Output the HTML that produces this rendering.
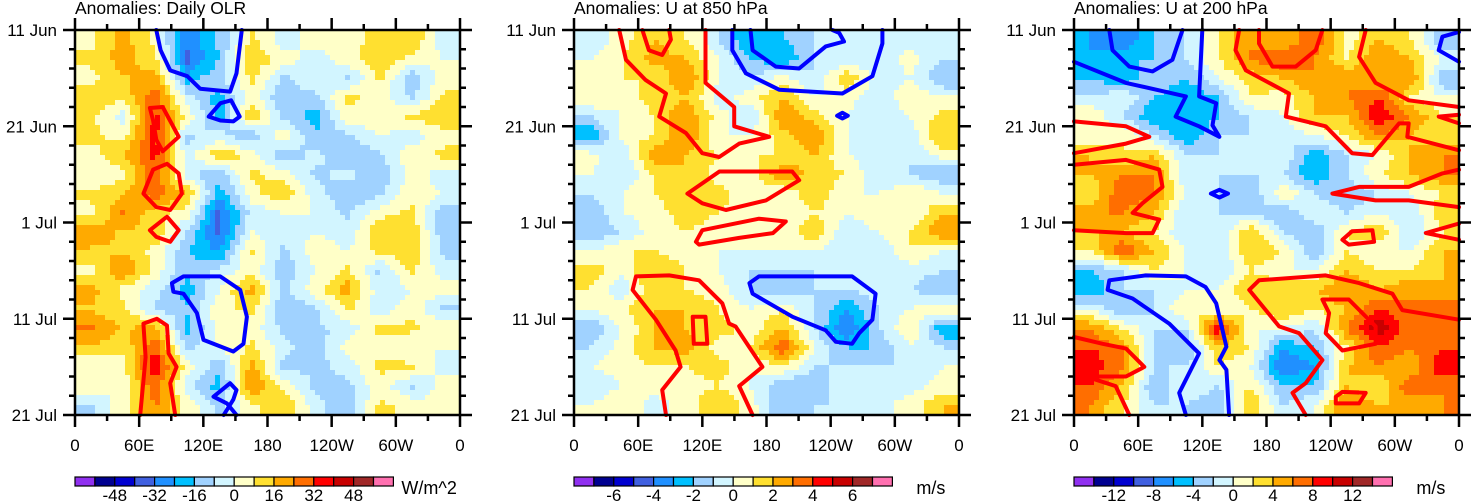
<!DOCTYPE html>
<html><head><meta charset="utf-8">
<style>
html,body{margin:0;padding:0;background:#fff;}
svg{display:block;font-family:"Liberation Sans",Arial,sans-serif;}
</style></head>
<body>
<svg id="root" width="1473" height="501" viewBox="0 0 1473 501" xmlns="http://www.w3.org/2000/svg"></svg>
<script>
// ---------- data ----------
const lonTickLabels = ["0","60E","120E","180","120W","60W","0"];
const dayTickLabels = ["11 Jun","21 Jun","1 Jul","11 Jul","21 Jul"];
const panelTitles = ["Anomalies: Daily OLR","Anomalies: U at 850 hPa","Anomalies: U at 200 hPa"];
const panelUnits = ["W/m^2","m/s","m/s"];
const panelSteps = [8,1,2];
const cbLabels1 = ["-48","-32","-16","0","16","32","48"];
const cbLabels2 = ["-6","-4","-2","0","2","4","6"];
const cbLabels3 = ["-12","-8","-4","0","4","8","12"];
const levelColors = ['#9030f0','#000090','#0000d0','#4060e0','#2090ff','#00c0ff','#a0d2ff','#d2f5ff','#ffffc8','#ffe030','#ffaa00','#ff6e00','#ff0000','#c80000','#a02828','#ff70b0'];

// OLR anomaly grid: 20 rows (2-day) x 12 cols (30 deg)
const olr = [
[5,20,5,-30,-15,10,-5,5,0,15,15,-5],
[10,20,10,-35,-15,15,5,-5,5,15,5,0],
[5,15,20,-20,-10,10,-10,0,-10,10,-15,5],
[15,10,30,-5,-20,5,-15,-10,10,5,-10,10],
[10,-5,35,5,-20,15,-10,-20,5,5,10,15],
[10,5,35,-10,-5,-15,5,-15,-10,0,-5,5],
[5,15,35,-5,15,5,-15,-5,-15,-10,5,10],
[0,5,30,-5,-15,10,5,-10,-5,-15,5,-5],
[10,15,30,15,-20,5,15,-5,-15,-10,5,0],
[5,25,10,5,-35,-5,0,0,-10,5,10,-15],
[20,15,15,-10,-35,0,-5,0,-5,15,15,-15],
[15,15,5,-15,-25,10,-10,5,0,10,15,-10],
[5,25,5,-15,-5,5,-15,0,10,-10,10,-5],
[20,5,-5,-20,0,20,-10,5,20,-5,0,5],
[15,10,-10,-15,5,10,-15,-10,10,-5,5,-10],
[25,15,20,-20,5,5,-10,-10,-5,10,10,5],
[15,10,30,-10,0,10,-5,-15,5,5,0,0],
[0,5,40,5,-15,20,-10,-10,-5,10,10,-5],
[5,0,30,-5,-20,25,5,-10,-10,5,-10,5],
[-10,5,25,5,-10,5,15,-5,-15,10,5,0]];
const u850 = [
[-1,0.5,2,1,-1,-3,-2,-1,0,-1,-0.5,-1],
[0,1,2.5,2,0,-2,-3,-1,-1,-1,0.5,-1],
[0,1,1,3,0,-1,0.5,-1,2,-0.5,0,-2],
[1,0.5,1.5,2,-0.5,0.5,2,0,0.5,-1,1,0],
[-1,0,1,3,0.5,-1,3,1.5,0,-1,0,1.5],
[-3,0.5,1,3,0,0,1.5,3,0,-1,-0.5,2],
[0.5,-1,3,2,1,1,1,2,0,-0.5,-1,0.5],
[0,-1,1,2,0.5,0.5,3,1.5,1,-1,-1,-2],
[-1,0,1,2,1.5,0,0,2,0,0,1,0],
[-2,0,0.5,1.5,1,0.5,0,1,0,1,0,2],
[-2,-1,0.5,1,0.5,0.5,0,2,-1,0,1,3],
[0,1,1,0.5,0,0,0,0,-1,-1,1,0],
[1.5,0.5,2,1,0,-1,-1,-1,-1,-1,-0.5,-1],
[1,-1,2,1,0.5,-1,-2,-1,-1,-0.5,-1,-2],
[0,1,2,2,1,0,1,-1,-3,-1,0,1],
[-2,0,2,2,1.5,0.5,2,-1,-4,-1,1,-3],
[-1,0.5,2,2.5,0.5,1,4,0,-2,-2,0,-1],
[0,0.5,1,1,1.5,0,1,-1,-1,-1,-1,0],
[-1,0,0.5,0.5,1,0,-2,-2,0,0,-0.5,0.5],
[0,1,-0.5,0.5,2,0.5,-2,-1,-1,-0.5,0.5,2]];
const u200 = [
[-6,-8,-4,-2,2,6,4,8,1,4,2,-4],
[-6,-4,-4,-2,2,6,8,6,2,6,4,0],
[-4,-6,-2,-4,0,3,4,6,6,4,6,-4],
[-2,0,-4,-6,-4,2,1,4,6,8,2,0],
[2,-2,-6,-6,-4,-2,0,4,4,10,6,2],
[0,2,-2,-6,-2,-2,-2,0,2,6,4,2],
[4,2,4,-2,-2,-2,0,-6,-2,0,4,6],
[4,6,6,-2,-2,-2,-2,-6,-2,2,4,6],
[2,8,6,0,-2,-4,2,-2,-4,-2,0,2],
[6,6,4,-2,-2,-2,-4,0,-2,0,-2,4],
[4,4,2,-2,-2,4,-2,-4,2,4,-2,2],
[2,8,4,0,-2,4,2,-4,2,0,0,4],
[-4,-2,2,0,-2,2,0,0,4,2,2,4],
[-6,-2,-2,0,0,4,4,4,6,4,6,4],
[0,-4,-2,2,0,2,4,2,4,8,6,8],
[6,2,-2,-2,10,0,0,-2,6,12,6,6],
[8,6,-2,-4,4,2,-6,-4,2,8,6,8],
[10,6,-2,-2,2,0,-8,-6,4,6,4,10],
[8,4,-4,0,-2,2,-4,-4,4,2,8,6],
[6,2,-2,-2,-4,4,-2,0,6,4,4,6]];

// contour lines in data coords [lon, dayOffset], with closed flag
const contours1 = [
{c:'b',z:0,p:[[76,0],[80,2.1],[89,4.2],[105,4.8],[117,6.1],[145,6.4],[151,4.5],[156,0]]},
{c:'b',z:1,p:[[125,9],[136,7.6],[146,7.3],[154,9],[148,9.5],[136,9.4]]},
{c:'r',z:1,p:[[70,8.1],[82,8],[97,11.1],[82,12.6],[76,11.4],[73,9.4]]},
{c:'r',z:1,p:[[86,13.9],[97,14.9],[100,17],[89,18.7],[76,18.4],[64,17],[73,14.5]]},
{c:'r',z:1,p:[[86,19.4],[97,20.8],[89,22],[76,21.5],[70,20.8]]},
{c:'b',z:1,p:[[90.6,26.3],[101.5,25.6],[135.8,25.6],[154.5,27],[160.7,29.8],[157.6,32.6],[148,33.4],[120.2,32.2],[114,29.4],[101.5,27.4],[92,27.2]]},
{c:'r',z:0,p:[[61,40],[66,34],[64,30.5],[76.6,30],[86,30.7],[87.5,33.6],[95,35],[89,36.7],[93.7,40]]},
{c:'b',z:0,p:[[139,40],[148,38.4],[151,37.4],[145,36.7],[129.5,38.1],[142,38.8],[151,40]]}];
const contours2 = [
{c:'r',z:0,p:[[42.3,0],[48.6,3.1],[67,5.2],[86,6.6],[79.7,9],[104.6,10.7],[120,12.8],[135.8,13.2],[154.5,11.8],[182.5,11.1],[149.8,10],[149.8,8],[123,5.5],[123,0]]},
{c:'r',z:0,p:[[64,0],[70,2.1],[82.5,2.6],[90.6,1],[89,0]]},
{c:'r',z:1,p:[[106,17],[136,14.7],[204,14.7],[210.6,15.6],[179.4,17.7],[142,18.7],[120,18]]},
{c:'r',z:1,p:[[114,22],[120,20.8],[173,19.6],[198,19.9],[186,21.1],[154.5,21.6],[117,22.3]]},
{c:'b',z:0,p:[[148,0],[148,2.1],[160.7,4.5],[191.8,6.2],[251,6.6],[279,4.8],[288.4,1.4],[288.4,0]]},
{c:'b',z:0,p:[[165,0],[167,2.1],[188.7,3.8],[210.5,4],[235.4,1.7],[252.5,1.2],[248,0.3],[241.6,0]]},
{c:'b',z:1,p:[[246,8.9],[251,8.6],[256,8.9],[251,9.2]]},
{c:'b',z:1,p:[[164,26.3],[173,25.6],[260,25.6],[282,27.4],[279,30.1],[266.7,31.5],[260,32.6],[244.8,32.4],[235.4,31.2],[204.4,29.8],[167,27.4]]},
{c:'r',z:0,p:[[86,40],[82.5,37.4],[99.7,35],[95,33.3],[76.6,30.1],[54.8,27],[58,25.6],[89,25.5],[117,26],[138.7,28.4],[145,30.5],[151,30.8],[176.2,35],[154.5,37],[167,40]]},
{c:'r',z:1,p:[[111,29.8],[123,29.8],[124.6,32.6],[112,32.6]]}];
const contours3 = [
{c:'b',z:0,p:[[0,3.3],[48.6,5.5],[104.6,6.9],[95,9],[117,10],[136,11.1],[129.5,9.9],[133,7.6],[117,6.9],[120,0]]},
{c:'b',z:0,p:[[33,0],[36,2.1],[51.7,3.8],[73.5,4.3],[92,3.1],[101.5,0]]},
{c:'b',z:0,p:[[360,0.2],[344.5,0.7],[341,2.1],[360,3.3]]},
{c:'b',z:1,p:[[128,17],[136,16.6],[144,17],[136,17.4]]},
{c:'b',z:0,p:[[104.6,40],[98.4,37.7],[117,33.6],[89,30.5],[54.8,27.9],[31.4,27],[33,26],[67,25.5],[104.6,25.6],[123,26.7],[133,28.4],[142.5,32.9],[136,34.3],[142.5,35.3],[145,40]]},
{c:'r',z:0,p:[[154.5,0],[151,2.1],[160.7,4.2],[201,6.6],[198,9],[235.4,10],[260,12.8],[279,13],[304,9.7],[313,9.7],[311.7,11.1],[360,12.5]]},
{c:'r',z:0,p:[[272.8,0],[266.6,2.8],[282,5.5],[313,7.3],[360,8]]},
{c:'r',z:0,p:[[173,0],[173,1.4],[185.6,3.8],[207.4,3.8],[226,2.1],[232.3,0]]},
{c:'r',z:0,p:[[360,8.8],[341,9],[360,9.7]]},
{c:'r',z:0,p:[[0,9.5],[48.6,10],[70.4,11.1],[48.6,11.8],[0,12.8]]},
{c:'r',z:0,p:[[0,14],[48.6,13.5],[79.7,14.5],[82.8,16.3],[64,18],[54.8,19],[79.7,19.7],[73.5,21.1],[48.6,21.1],[0,20.8]]},
{c:'r',z:0,p:[[360,14.5],[344.5,14.9],[313,16.3],[266.6,16.3],[241.6,17],[282,17.7],[313,17.7],[360,18.4]]},
{c:'r',z:1,p:[[251,21.8],[260,20.9],[279,20.8],[280.6,22],[257,22.3]]},
{c:'r',z:0,p:[[360,20.1],[329,21.1],[360,21.8]]},
{c:'r',z:0,p:[[360,30.1],[307,29.1],[297.7,27.4],[266.6,26.3],[235.4,25.5],[173,26],[163.8,27],[191.8,30.8],[210.5,31.5],[232.3,34.3],[216.7,36.7],[204.3,37.7],[216.7,40]]},
{c:'r',z:1,p:[[232.3,28],[257,28],[282,30.8],[282,32.6],[251,33.3],[235.4,31.5],[238.5,29.4]]},
{c:'r',z:0,p:[[0,31.9],[26.8,32.6],[48.6,33.1],[65.7,35],[48.6,36],[11,36],[39,37],[51.7,40]]},
{c:'r',z:1,p:[[244.8,38.1],[251,37.6],[272.8,37.7],[266.6,38.8],[244.8,38.8]]}];

// ---------- drawing ----------
const NS="http://www.w3.org/2000/svg";
const root=document.getElementById('root');
function mk(tag,attrs,parent){const e=document.createElementNS(NS,tag);for(const k in attrs)e.setAttribute(k,attrs[k]);(parent||root).appendChild(e);return e;}

const panelX=[75,574,1074], PY=30, PW=385, PH=385;
const fields=[olr,u850,u200];
const contourSets=[contours1,contours2,contours3];
const cbLabelSets=[cbLabels1,cbLabels2,cbLabels3];

function levelIndex(v,step){let i=Math.floor(v/step)+8;return Math.max(0,Math.min(15,i));}
function sample(grid,fx,fy){
  const R=grid.length,C=grid[0].length;
  let x=fx-0.5,y=fy-0.5;
  x=Math.max(0,Math.min(C-1,x));y=Math.max(0,Math.min(R-1,y));
  const x0=Math.floor(x),y0=Math.floor(y),x1=Math.min(C-1,x0+1),y1=Math.min(R-1,y0+1);
  const tx=x-x0,ty=y-y0;
  const a=grid[y0][x0]*(1-tx)+grid[y0][x1]*tx;
  const b=grid[y1][x0]*(1-tx)+grid[y1][x1]*tx;
  return a*(1-ty)+b*ty;
}

for(let p=0;p<3;p++){
  const X0=panelX[p];
  const g=mk('g',{},root);
  
  
  const xs=lon=>X0+lon/360*PW;
  const ys=d=>PY+d/40*PH;
  const t=mk('text',{x:X0,y:PY-16,'font-size':17.5,fill:'#000'},g);
  t.textContent=panelTitles[p];
  
  
  const grid=fields[p],step=panelSteps[p];
  const R=grid.length,C=grid[0].length;
  const cell=5;
  const nx=Math.ceil(PW/cell),ny=Math.ceil(PH/cell);
  const paths=levelColors.map(()=>[]);
  for(let j=0;j<ny;j++){
    let runStart=0,runLvl=-1;
    const py=PY+j*cell,h=Math.min(cell,PY+PH-py);
    for(let i=0;i<=nx;i++){
      let lvl=-2;
      if(i<nx){
        const fx=(i+0.5)*cell/PW*C, fy=(j+0.5)*cell/PH*R;
        lvl=levelIndex(sample(grid,fx,fy),step);
      }
      if(lvl!==runLvl){
        if(runLvl>=0){
          const x=X0+runStart*cell, w=Math.min(i*cell,PW)-runStart*cell;
          paths[runLvl].push('M'+x+' '+py+'h'+w+'v'+h+'h'+(-w)+'z');
        }
        runStart=i;runLvl=lvl;
      }
    }
  }
  const fg=mk('g',{'shape-rendering':'crispEdges'},g);
  
  
  paths.forEach((arr,k)=>{if(arr.length){const e=mk('path',{d:arr.join(''),fill:levelColors[k]},fg);
    
    }});
  const cg=mk('g',{},g);
  
  
  contourSets[p].forEach(ct=>{
    const d=ct.p.map((q,i)=>(i?'L':'M')+xs(q[0]).toFixed(1)+' '+ys(q[1]).toFixed(1)).join('')+(ct.z?'Z':'');
    const e=mk('path',{d:d,fill:'none',stroke:ct.c==='r'?'#ff0000':'#0000ff','stroke-width':4,'stroke-linejoin':'round','stroke-linecap':'round'},cg);
    
    
  });
  const fr=mk('rect',{x:X0,y:PY,width:PW,height:PH,fill:'none',stroke:'#000','stroke-width':2.5},g);
  
  
  let td='';
  for(let k=0;k<=12;k++){const x=xs(k*30),L=(k%2===0)?12:6;td+='M'+x+' '+(PY+PH)+'v'+L+'M'+x+' '+PY+'v'+(-L);}
  for(let k=0;k<=20;k++){const y=ys(k*2),L=(k%5===0)?12:6;td+='M'+X0+' '+y+'h'+(-L)+'M'+(X0+PW)+' '+y+'h'+L;}
  const tk=mk('path',{d:td,stroke:'#000','stroke-width':2.5,fill:'none'},g);
  
  
  lonTickLabels.forEach((s,k)=>{const e=mk('text',{x:xs(k*60),y:451,'font-size':17,'text-anchor':'middle'},g);e.textContent=s;
    
    });
  dayTickLabels.forEach((s,k)=>{const e=mk('text',{x:X0-18,y:ys(k*10)+6,'font-size':17,'text-anchor':'end'},g);e.textContent=s;
    
    });
  const cb=mk('g',{},g);
  
  
  const bw=19.9;
  levelColors.forEach((c,k)=>{const e=mk('rect',{x:X0+k*bw,y:477,width:bw,height:9,fill:c,stroke:'#000','stroke-width':1.2},cb);
    
    });
  cbLabelSets[p].forEach((s,k)=>{const e=mk('text',{x:X0+(2+2*k)*bw,y:501,'font-size':17,'text-anchor':'middle'},cb);e.textContent=s;
    
    });
  const u=mk('text',{x:X0+16*bw+(p===0?8:24),y:494,'font-size':18},cb);u.textContent=panelUnits[p];
  
  
}
</script>
</body></html>
